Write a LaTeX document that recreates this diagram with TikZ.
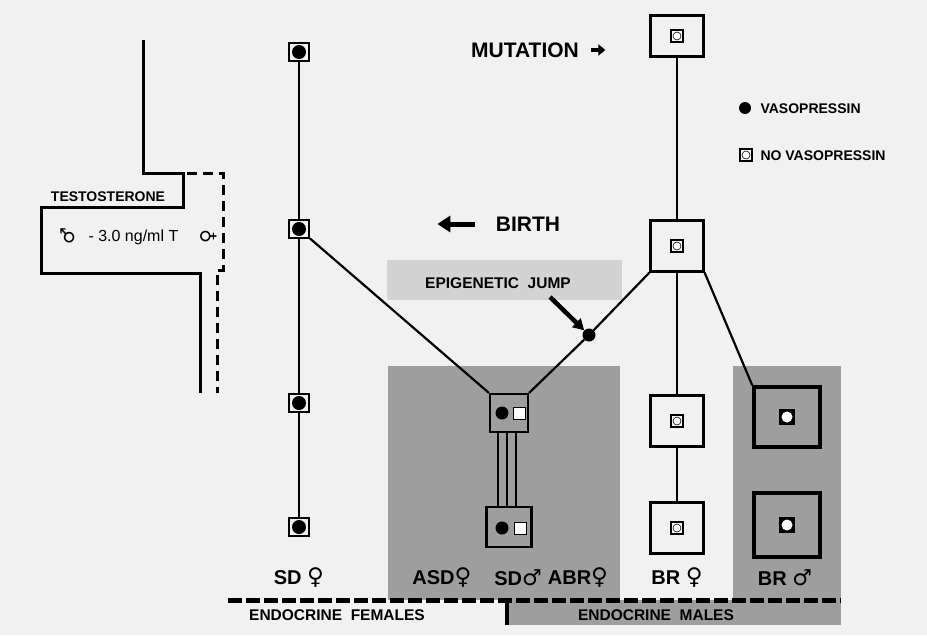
\documentclass[tikz,border=0pt]{standalone}
\usepackage{fontspec}
\setmainfont{Liberation Sans}
\newfontfamily\symfont{DejaVu Sans}
\usetikzlibrary{arrows.meta}

\definecolor{paper}{HTML}{F1F1F1}
\definecolor{zonegray}{HTML}{9E9E9E}
\definecolor{jumpgray}{HTML}{D3D3D3}

\tikzset{
  link/.style={line width=2.2pt},
  wall/.style={line width=3pt},
  sdbox/.style={draw, line width=2pt, fill=paper, minimum width=20pt, minimum height=18pt, inner sep=0pt},
  brbox/.style={draw, line width=2.2pt, fill=paper, minimum width=53pt, minimum height=51pt, inner sep=0pt},
  brmbox/.style={draw, line width=3.5pt, fill=zonegray, minimum width=66pt, minimum height=60pt, inner sep=0pt},
  asdbox/.style={draw, line width=2.2pt, fill=zonegray, inner sep=0pt},
  vdot/.style={circle, fill, inner sep=0pt, minimum size=13pt},
  novaso/.style={draw, line width=2pt, fill=white, minimum size=12pt, inner sep=0pt},
  biglab/.style={font=\bfseries\fontsize{21}{23}\selectfont},
  lab/.style={font=\bfseries\fontsize{20}{22}\selectfont},
  small/.style={font=\bfseries\fontsize{14}{16}\selectfont},
}
\newcommand{\fem}{{\symfont\fontsize{23}{23}\selectfont ♀}}
\newcommand{\mal}{{\symfont\fontsize{22}{22}\selectfont ♂}}

\begin{document}
\begin{tikzpicture}[x=1pt, y=-1pt]
    \fill[paper] (0,0) rectangle (927,635);
    \useasboundingbox (0,0) rectangle (927,635);

    % Grey groups
    \fill[zonegray] (388,366) rectangle (620,600);
    \fill[zonegray] (733,366) rectangle (841,625);
    \fill[zonegray] (507,600) rectangle (841,625);

    % Testosterone channel
    \draw[wall] (143,40) |- (183,173) |- (41,207) |- (200,273) -- (200,393);
    \draw[wall, dash pattern=on 10pt off 6pt] (187,173) -| (223,270) -| (217,393);
    \node[small] (testo) at (108,197) {TESTOSTERONE};
    \node[font=\symfont\fontsize{19}{19}\selectfont, rotate=90] (male) at (68,236) {♂};
    \node[font=\fontsize{16}{18}\selectfont, anchor=west] (level) at (85,237) {- 3.0 ng/ml T};
    \node[font=\symfont\fontsize{19}{19}\selectfont, rotate=90] (female) at (209,237) {♀};

    % SD female column
    \node[sdbox] (sd1) at (299,52) {};
    \node[sdbox] (sd2) at (299,229) {};
    \node[sdbox] (sd3) at (299,403) {};
    \node[sdbox] (sd4) at (299,527) {};
    \draw[link] (sd1) -- (sd2) -- (sd3) -- (sd4);
    \foreach \n in {sd1,sd2,sd3,sd4}
        \fill (\n) circle (7);

    % Epigenetic jump
    \node[fill=jumpgray, minimum width=235pt, minimum height=40pt] (jumpbox) at (504,280) {};
    \node[small, font=\bfseries\fontsize{15.5}{17}\selectfont] (jumptxt) at (498,283) {EPIGENETIC\ \ JUMP};
    \node[vdot] (jump) at (589,335) {};
    \draw[line width=4.5pt, -{Triangle[length=11pt, width=12pt]}] (550,297) -- (jump);

    % SD male pair
    \node[asdbox, minimum width=38pt, minimum height=38pt] (asd1) at (509,413) {};
    \node[asdbox, minimum width=45pt, minimum height=40pt] (asd2) at (509,527) {};
    \foreach \dx in {-11,-2,7}
        \draw[link] ([xshift=\dx pt]asd1.south) -- ([xshift=\dx pt]asd2.north);
    \fill (502,413) circle (6.5);
    \fill (502,528) circle (6.5);
    \filldraw[fill=white, line width=0.8pt] (513,407) rectangle (525,419);
    \filldraw[fill=white, line width=0.8pt] (514,522) rectangle (526,534);
    \draw[link] (sd2) -- (asd1.north west);
    \draw[link] (jump) -- (asd1.north east);

    % BR column
    \node[brbox, minimum height=41pt] (br1) at (677,36) {};
    \node[brbox] (br2) at (677,246) {};
    \node[brbox] (br3) at (677,421) {};
    \node[brbox] (br4) at (677,528) {};
    \draw[link] (br1) -- (br2) -- (br3) -- (br4);
    \draw[link] (jump) -- (br2.south west);
    \node[brmbox] (bm1) at (787,417) {};
    \node[brmbox, minimum height=64pt] (bm2) at (787,525) {};
    \draw[link] (br2.south east) -- (bm1.north west);
    \foreach \n in {br1,br2,br3,br4} {
        \node[novaso] at (\n) {};
        \draw[line width=0.6pt] (\n) circle (4);
    }
    \foreach \n in {bm1,bm2} {
        \fill (\n) ++(-8,-8) rectangle ++(16,16);
        \fill[white] (\n) circle (5.5);
    }

    % Birth and mutation
    \node[biglab] (birth) at (528,224) {BIRTH};
    \draw[line width=5pt, -{Triangle[length=13pt, width=16pt]}] (birth.west) ++(-17,0) coordinate (b0) -- ++(-38,0);
    \node[biglab] (mutation) at (525,50) {MUTATION};
    \draw[line width=4.5pt, -{Triangle[length=7pt, width=11pt]}] (mutation.east) ++(9,0) -- ++(14,0);

    % Legend
    \node[vdot, minimum size=12pt] (keydot) at (745,108) {};
    \node[small, anchor=west] (keyv) at (757,109) {VASOPRESSIN};
    \node[novaso] (keysq) at (746,155) {};
    \draw[line width=0.6pt] (keysq) circle (4);
    \node[small, anchor=west] (keynv) at (757,156) {NO VASOPRESSIN};

    % Group labels
    \node[lab] (lsd) at (299,578) {SD \fem};
    \node[lab] (lasd) at (442,578) {ASD\fem};
    \node[lab] (lsdm) at (518,578) {SD\mal};
    \node[lab] (labr) at (578,578) {ABR\fem};
    \node[lab] (lbrf) at (677,578) {BR \fem};
    \node[lab] (lbrm) at (785,578) {BR \mal};

    % Endocrine sexes
    \draw[line width=5pt, dash pattern=on 14pt off 4pt] (228,600) -- (841,600);
    \draw[line width=4pt] (507,602) -- (507,625);
    \node[small, font=\bfseries\fontsize{15.5}{17}\selectfont] (efem) at (337,615) {ENDOCRINE\ \ FEMALES};
    \node[small, font=\bfseries\fontsize{15.5}{17}\selectfont] (emal) at (656,615) {ENDOCRINE\ \ MALES};
\end{tikzpicture}
\end{document}
